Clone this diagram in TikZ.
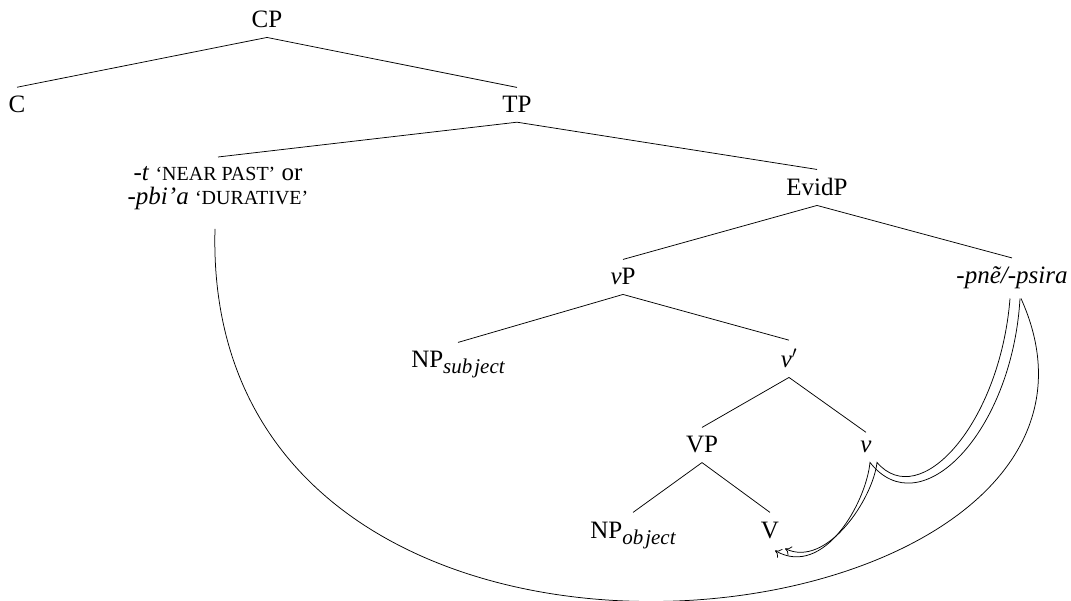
\documentclass[tikz,border=0pt]{standalone}
\usepackage{fontspec}
\setmainfont{Liberation Serif}
\usetikzlibrary{arrows.meta}
\newcommand{\fsc}[1]{{\fontsize{20}{22}\selectfont #1}}
\newcommand{\subtxt}[1]{\raisebox{-6pt}{\fontsize{21}{22}\selectfont\itshape #1}}
\begin{document}
\begin{tikzpicture}[x=1pt,y=-1pt,
  font=\fontsize{25}{24}\selectfont,
  lab/.style={inner xsep=1pt, inner ysep=9pt, anchor=base},
  br/.style={line width=0.75pt},
  mv/.style={line width=0.75pt},
  mvtip/.style={-{To[length=6pt,width=10pt]}}]
\useasboundingbox (0,0) rectangle (1071,601);
% nodes
\node[lab] (CP) at (267,28) {CP};
\node[lab] (C) at (17,113) {C};
\node[lab] (TP) at (517,113) {TP};
\node[align=center, anchor=north, inner ysep=9pt, inner xsep=1pt] (T) at (218,157)
  {\textit{-t} \fsc{‘NEAR PAST’} or\\ \textit{-pbi’a} \fsc{‘DURATIVE’}};
\node[lab] (EvidP) at (817,196) {EvidP};
\node[lab] (vP) at (623,285) {\textit{v}P};
\node[lab] (pne) at (1012,284) {\textit{-pnẽ/-psira}};
\node[lab] (NPs) at (458,368) {NP\subtxt{sub\kern2pt ject}};
\node[lab] (vbar) at (789,368) {\textit{v}$'$};
\node[lab] (VP) at (702,453) {VP};
\node[lab] (v) at (866,453) {\textit{v}};
\node[lab] (NPo) at (633,538) {NP\subtxt{ob\kern2pt ject}};
\node[lab] (V) at (770,538) {V};
% branches
\draw[br] (CP.south) -- (C.north);
\draw[br] (CP.south) -- (TP.north);
\draw[br] (TP.south) -- (T.north);
\draw[br] (TP.south) -- (EvidP.north);
\draw[br] (EvidP.south) -- (vP.north);
\draw[br] (EvidP.south) -- (pne.north);
\draw[br] (vP.south) -- (NPs.north);
\draw[br] (vP.south) -- (vbar.north);
\draw[br] (vbar.south) -- (VP.north);
\draw[br] (vbar.south) -- (v.north);
\draw[br] (VP.south) -- (NPo.north);
\draw[br] (VP.south) -- (V.north);
% movement
\draw[mv,mvtip] ([xshift=8pt]pne.south) .. controls +(-8,135) and +(50,64) .. ([xshift=4pt]v.south)
   .. controls +(-4,40) and +(49,28) .. ([xshift=5pt,yshift=-3pt]V.south);
\draw[mv,mvtip] ([xshift=-2pt]pne.south) .. controls +(-10,125) and +(43,50) .. ([xshift=11pt]v.south)
   .. controls +(-4,36) and +(42,20) .. ([xshift=15pt,yshift=-1pt]V.south);
\draw[mv] ([xshift=-3pt,yshift=-10pt]T.south) .. controls +(-15,548) and +(159,352) .. ([xshift=9pt]pne.south);
\end{tikzpicture}
\end{document}
